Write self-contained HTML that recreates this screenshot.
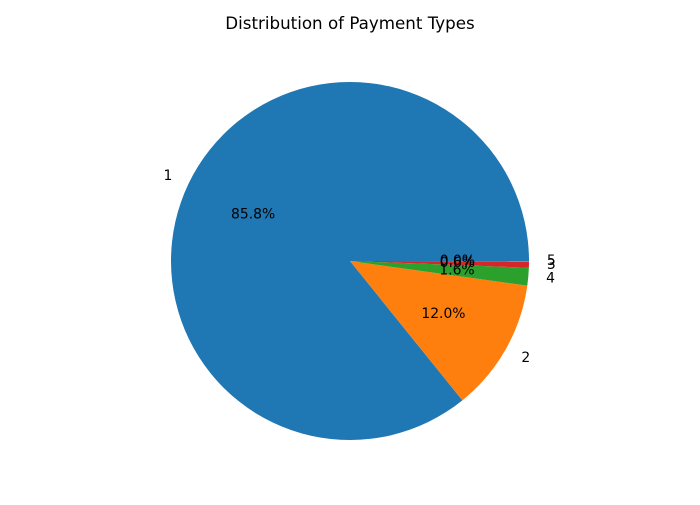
<!DOCTYPE html>
<html><head><meta charset="utf-8"><style>
body{margin:0;background:#fff;width:700px;height:500px;overflow:hidden}
svg text{font-family:"DejaVu Sans","Liberation Sans",sans-serif}
</style></head><body>
<svg id="c" width="700" height="500">
<text x="350" y="29" text-anchor="middle" font-size="16.7">Distribution of Payment Types</text>
</svg>
<script>
const categories = ["1","2","4","3","5"];
const values = [85.8, 12.0, 1.6, 0.58, 0.02];
const colors = ["#1f77b4","#ff7f0e","#2ca02c","#d62728","#9467bd"];
const svg = document.getElementById('c');
const NS = 'http://www.w3.org/2000/svg';
const cx = 350, cy = 261, r = 179;
const total = values.reduce((a,b)=>a+b,0);
function pt(a, rr){return [cx + rr*Math.cos(a), cy - rr*Math.sin(a)];}
let start = 0;
values.forEach((v,i)=>{
  const sweep = v/total*2*Math.PI;
  const end = start + sweep;
  const [x1,y1] = pt(start,r), [x2,y2] = pt(end,r);
  const p = document.createElementNS(NS,'path');
  p.setAttribute('d',`M${cx},${cy} L${x1},${y1} A${r},${r} 0 ${sweep>Math.PI?1:0} 0 ${x2},${y2} Z`);
  p.setAttribute('fill',colors[i]);
  
  
  svg.appendChild(p);
  const mid = start + sweep/2;
  const [lx,ly] = pt(mid, r*1.1);
  const t = document.createElementNS(NS,'text');
  t.setAttribute('x',lx); t.setAttribute('y',ly+4);
  t.setAttribute('font-size','13.9');
  t.setAttribute('text-anchor', Math.cos(mid)>=0?'start':'end');
  t.textContent = categories[i];
  
  
  svg.appendChild(t);
  const [px,py] = pt(mid, r*0.6);
  const t2 = document.createElementNS(NS,'text');
  t2.setAttribute('x',px); t2.setAttribute('y',py+4);
  t2.setAttribute('font-size','13.9');
  t2.setAttribute('text-anchor','middle');
  t2.textContent = (v/total*100).toFixed(1)+'%';
  
  
  svg.appendChild(t2);
  start = end;
});
</script>
</body></html>
